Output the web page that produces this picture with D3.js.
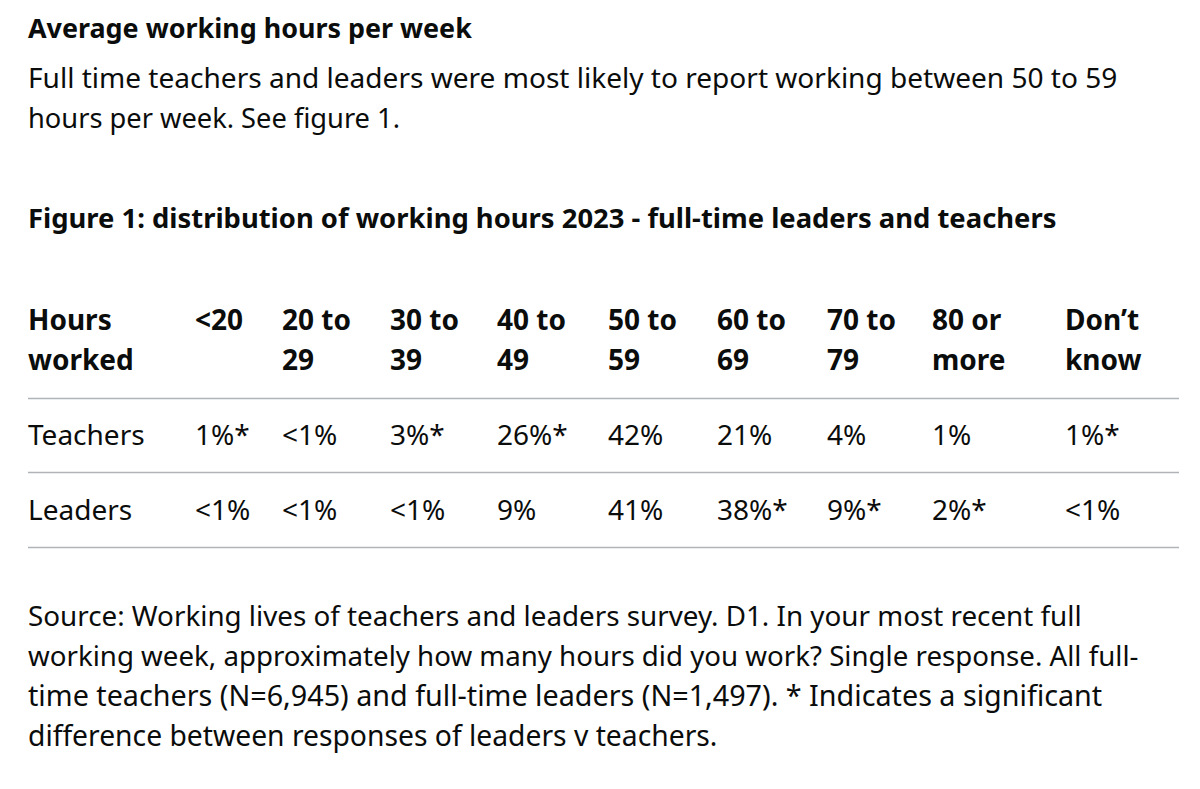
<!DOCTYPE html>
<html>
<head>
<meta charset="utf-8">
<script src="https://cdn.jsdelivr.net/npm/d3@7"></script>
<style>
  html, body { margin: 0; padding: 0; background: #ffffff; }
  svg text { font-family: "Noto Sans", sans-serif; fill: #0b0c0c; }
</style>
</head>
<body>
<svg id="chart" width="1200" height="789"></svg>
<script>
// ---- data ----
const heading = "Average working hours per week";
const introLines = [
  "Full time teachers and leaders were most likely to report working between 50 to 59",
  "hours per week. See figure 1."
];
const figureTitle = "Figure 1: distribution of working hours 2023 - full-time leaders and teachers";
const rowHeader = "Hours worked";
const categories = ["<20", "20 to 29", "30 to 39", "40 to 49", "50 to 59", "60 to 69", "70 to 79", "80 or more", "Don’t know"];
const rowLabels = ["Teachers", "Leaders"];
const teachersValues = ["1%*", "<1%", "3%*", "26%*", "42%", "21%", "4%", "1%", "1%*"];
const leadersValues = ["<1%", "<1%", "<1%", "9%", "41%", "38%*", "9%*", "2%*", "<1%"];
const sourceLines = [
  "Source: Working lives of teachers and leaders survey. D1. In your most recent full",
  "working week, approximately how many hours did you work? Single response. All full-",
  "time teachers (N=6,945) and full-time leaders (N=1,497). * Indicates a significant",
  "difference between responses of leaders v teachers."
];

// ---- layout ----
const svg = d3.select("#chart");
svg.append("rect").attr("width", 1200).attr("height", 789).attr("fill", "#ffffff");
const left = 28, right = 1179;

function fitText(sel, target) {
  const node = sel.node();
  const fs = parseFloat(sel.attr("font-size"));
  const w = node.getComputedTextLength();
  if (w > 0) sel.attr("font-size", fs * target / w);
  return sel;
}

// heading
fitText(svg.append("text").attr("x", left).attr("y", 38).attr("font-size", 26)
  .attr("font-weight", 700).text(heading), 444);

// intro
const introW = [1090, 372];
introLines.forEach((t, i) => {
  fitText(svg.append("text").attr("x", left).attr("y", 88 + i * 40).attr("font-size", 25).text(t), introW[i]);
});

// figure title
fitText(svg.append("text").attr("x", left).attr("y", 228).attr("font-size", 26)
  .attr("font-weight", 700).text(figureTitle), 1029);

// columns
const colStarts = [195, 282, 390, 497, 608, 717, 827, 932, 1065];
const xCol = d3.scaleOrdinal().domain(categories).range(colStarts);

const tableFont = 28;
function splitLabel(s) {
  const i = s.lastIndexOf(" ");
  return i < 0 ? [s] : [s.slice(0, i), s.slice(i + 1)];
}

const header = svg.append("g").attr("font-weight", 700);
const hLabel = header.append("text").attr("x", left).attr("font-size", tableFont);
splitLabel(rowHeader).forEach((l, i) => hLabel.append("tspan").attr("x", left).attr("y", 330 + i * 40).text(l));
header.selectAll("text.cat").data(categories).join("text")
  .attr("class", "cat")
  .attr("font-size", tableFont)
  .each(function(d) {
    const t = d3.select(this);
    splitLabel(d).forEach((l, i) => t.append("tspan").attr("x", xCol(d)).attr("y", 330 + i * 40).text(l));
  });

// rules
const ruleY = [398, 472, 547];
svg.selectAll("line.rule").data(ruleY).join("line")
  .attr("class", "rule")
  .attr("x1", left).attr("x2", right)
  .attr("y1", d => d + 0.5).attr("y2", d => d + 0.5)
  .attr("stroke", "#b1b4b6").attr("stroke-width", 1.5);

// rows
const rows = [teachersValues, leadersValues];
const rowY = d3.scaleOrdinal().domain(rowLabels).range([445, 520]);
rowLabels.forEach((lab, r) => {
  const g = svg.append("g");
  g.append("text").attr("x", left).attr("y", rowY(lab)).attr("font-size", tableFont).text(lab);
  g.selectAll("text.v").data(rows[r]).join("text")
    .attr("class", "v")
    .attr("x", (d, i) => xCol(categories[i]))
    .attr("y", rowY(lab))
    .attr("font-size", tableFont)
    .text(d => d);
});

// source
const srcW = [1054, 1111, 1075, 690];
sourceLines.forEach((t, i) => {
  fitText(svg.append("text").attr("x", left).attr("y", 626 + i * 40).attr("font-size", 25).text(t), srcW[i]);
});
</script>
</body>
</html>
